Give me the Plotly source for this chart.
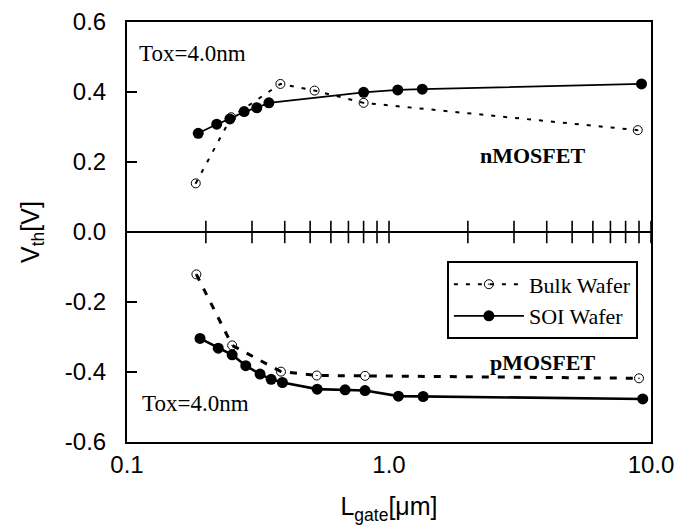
import plotly.graph_objects as go

# ---- data ----
n_bulk_L = [0.183, 0.25, 0.385, 0.52, 0.80, 8.9]
n_bulk_V = [0.139, 0.328, 0.423, 0.404, 0.369, 0.291]

n_soi_L = [0.187, 0.22, 0.247, 0.28, 0.313, 0.348, 0.80, 1.08, 1.34, 9.2]
n_soi_V = [0.282, 0.308, 0.323, 0.344, 0.355, 0.369, 0.399, 0.406, 0.408, 0.423]

p_bulk_L = [0.184, 0.252, 0.387, 0.53, 0.81, 9.0]
p_bulk_V = [-0.121, -0.324, -0.399, -0.410, -0.411, -0.418]

p_soi_L = [0.19, 0.223, 0.252, 0.284, 0.322, 0.355, 0.392, 0.532, 0.68, 0.81, 1.086, 1.35, 9.3]
p_soi_V = [-0.304, -0.332, -0.351, -0.382, -0.406, -0.421, -0.430, -0.449, -0.451, -0.453, -0.469, -0.470, -0.477]

minor_ticks = [0.2, 0.3, 0.4, 0.5, 0.6, 0.7, 0.8, 0.9, 1, 2, 3, 4, 5, 6, 7, 8, 9, 10]
x_tickvals = [0.1, 1, 10]
x_ticktext = ["0.1", "1.0", "10.0"]
y_tickvals = [-0.6, -0.4, -0.2, 0.0, 0.2, 0.4, 0.6]
y_ticktext = ["-0.6", "-0.4", "-0.2", "0.0", "0.2", "0.4", "0.6"]

SERIF = "Liberation Serif, Times New Roman, serif"
SANS = "Liberation Sans, Arial, sans-serif"

fig = go.Figure()

# tick marks crossing the zero line
fig.add_trace(go.Scatter(
    x=minor_ticks, y=[0] * len(minor_ticks), mode="markers",
    marker=dict(symbol="line-ns", size=16, line=dict(color="black", width=1.6)),
    showlegend=False, hoverinfo="skip"))

bulk_marker = dict(symbol="circle-open-dot", size=9, color="black", line=dict(color="black", width=1))
soi_marker = dict(symbol="circle", size=11, color="black")

fig.add_trace(go.Scatter(
    x=n_bulk_L, y=n_bulk_V, mode="lines+markers", name="Bulk Wafer",
    line=dict(color="black", width=2, dash="4px,8px"), marker=bulk_marker,
    showlegend=True))
fig.add_trace(go.Scatter(
    x=n_soi_L, y=n_soi_V, mode="lines+markers", name="SOI Wafer",
    line=dict(color="black", width=1.8), marker=soi_marker, showlegend=True))
fig.add_trace(go.Scatter(
    x=p_bulk_L, y=p_bulk_V, mode="lines+markers", name="Bulk Wafer",
    line=dict(color="black", width=3, dash="7px,9px"), marker=bulk_marker,
    showlegend=False))
fig.add_trace(go.Scatter(
    x=p_soi_L, y=p_soi_V, mode="lines+markers", name="SOI Wafer",
    line=dict(color="black", width=2.6), marker=soi_marker, showlegend=False))

fig.update_layout(
    width=684, height=527,
    margin=dict(l=127, r=33, t=22, b=85),
    paper_bgcolor="white", plot_bgcolor="white",
    font=dict(family=SANS, color="black", size=24),
    legend=dict(
        x=0.975, xanchor="right", y=0.43, yanchor="top",
        bordercolor="black", borderwidth=2, bgcolor="white",
        font=dict(family=SERIF, size=22, color="black"),
        tracegroupgap=0, itemwidth=70),
    xaxis=dict(
        type="log", range=[-1, 1], automargin=False,
        tickvals=x_tickvals, ticktext=x_ticktext, ticks="",
        showgrid=False, zeroline=False,
        showline=True, linecolor="black", linewidth=2, mirror=True,
        tickfont=dict(family=SANS, size=24),
        title=dict(text="L<sub>gate</sub>[μm]", font=dict(family=SANS, size=25), standoff=21)),
    yaxis=dict(
        range=[-0.6, 0.6], tickvals=y_tickvals, ticktext=y_ticktext, automargin=False,
        ticks="inside", ticklen=10, tickwidth=2, tickcolor="black",
        showgrid=False,
        zeroline=True, zerolinecolor="black", zerolinewidth=2,
        showline=True, linecolor="black", linewidth=2, mirror=True,
        tickfont=dict(family=SANS, size=24), ticklabelstandoff=14,
        title=dict(text="V<sub>th</sub>[V]", font=dict(family=SANS, size=25), standoff=18)),
    annotations=[
        dict(text="Tox=4.0nm", x=0.02, xref="paper", y=0.511, yref="y", xanchor="left",
             yanchor="middle", showarrow=False, font=dict(family=SERIF, size=23)),
        dict(text="Tox=4.0nm", x=0.025, xref="paper", y=-0.489, yref="y", xanchor="left",
             yanchor="middle", showarrow=False, font=dict(family=SERIF, size=23)),
        dict(text="<b>nMOSFET</b>", x=0.67, xref="paper", y=0.22, yref="y", xanchor="left",
             yanchor="middle", showarrow=False, font=dict(family=SERIF, size=22)),
        dict(text="<b>pMOSFET</b>", x=0.688, xref="paper", y=-0.374, yref="y", xanchor="left",
             yanchor="middle", showarrow=False, font=dict(family=SERIF, size=22)),
    ],
)

fig.write_html("out.html", config={"displayModeBar": False},
               post_script="document.body.style.margin='0';")
